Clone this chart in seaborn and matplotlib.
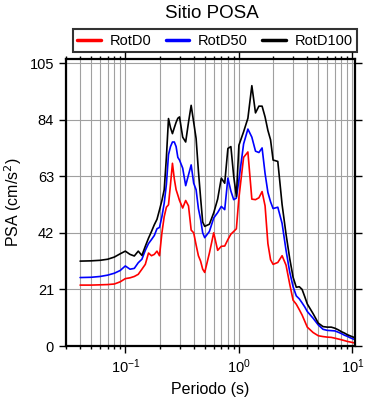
import numpy as np
import pandas as pd
import seaborn as sns
import matplotlib
matplotlib.use("Agg")
import matplotlib.pyplot as plt
from matplotlib.ticker import LogLocator, MultipleLocator, NullFormatter

# Periods (s) and spectral accelerations (cm/s2)
periods = [0.04, 0.05, 0.06, 0.07, 0.08, 0.09,
           0.10, 0.11, 0.12, 0.13, 0.14, 0.15, 0.16, 0.17, 0.18, 0.19,
           0.20, 0.21, 0.22, 0.23, 0.24, 0.25, 0.26, 0.27, 0.28, 0.29, 0.30,
           0.32, 0.34, 0.36, 0.38, 0.40, 0.42, 0.44, 0.46, 0.48, 0.50,
           0.55, 0.60, 0.65, 0.70, 0.75, 0.80, 0.85, 0.90, 0.95,
           1.0, 1.1, 1.2, 1.3, 1.4, 1.5, 1.6, 1.7, 1.8, 1.9, 2.0,
           2.2, 2.4, 2.6, 2.8, 3.0, 3.2, 3.4, 3.6, 3.8, 4.0,
           4.5, 5.0, 5.5, 6.0, 6.5, 7.0, 7.5, 8.0, 8.5, 9.0, 9.5, 10.0, 10.5]

rotd100 = [31.5, 31.6, 31.8, 32.2, 33.0, 34.2,
           35.2, 34.0, 33.4, 35.2, 33.6, 37.0, 40.0, 42.5, 45.0, 47.0,
           50.5, 54.0, 58.0, 70.0, 84.4, 81.0, 78.8, 81.0, 83.0, 84.5, 85.0,
           77.5, 75.7, 83.0, 89.3, 83.0, 77.0, 65.0, 55.0, 46.0, 44.4,
           45.2, 49.4, 54.5, 62.3, 60.4, 73.3, 74.0, 63.0, 55.5,
           74.5, 79.5, 84.5, 96.6, 86.5, 89.0, 89.0, 85.0, 80.0, 76.5, 69.0,
           68.5, 52.5, 41.5, 32.5, 25.5, 21.8, 22.0, 21.0, 18.3, 15.6,
           12.0, 8.5, 7.2, 7.0, 7.0, 6.6, 6.0, 5.3, 4.8, 4.2, 3.8, 3.4, 3.1]

rotd50 = [25.4, 25.5, 25.8, 26.3, 27.0, 28.0,
          29.7, 28.5, 28.8, 30.9, 32.2, 35.5, 38.0, 39.5, 41.0, 43.5,
          44.0, 48.0, 53.0, 60.0, 71.0, 74.0, 75.7, 75.7, 74.0, 70.0, 69.0,
          66.0, 59.5, 63.5, 67.2, 60.4, 58.0, 51.0, 47.0, 42.0, 40.2,
          42.5, 47.5, 49.5, 51.8, 50.6, 62.3, 57.5, 54.3, 54.9,
          61.6, 75.0, 80.5, 77.5, 72.3, 71.8, 73.5, 64.0, 57.0, 53.5, 51.0,
          51.5, 45.5, 35.5, 27.5, 22.0, 18.6, 17.5, 16.0, 14.5, 12.8,
          10.3, 7.8, 6.2, 5.8, 5.7, 5.6, 5.1, 4.6, 4.0, 3.6, 3.1, 2.7, 2.4]

rotd0 = [22.6, 22.6, 22.7, 22.8, 23.0, 23.8,
         25.0, 25.3, 25.8, 26.6, 28.5, 30.3, 34.5, 33.5, 34.0, 35.2,
         33.5, 42.0, 48.0, 51.5, 52.4, 60.0, 67.8, 62.0, 58.0, 56.0, 54.0,
         51.2, 54.0, 52.0, 43.0, 42.0, 37.5, 33.5, 31.5, 28.5, 27.3,
         34.5, 42.0, 35.5, 37.0, 37.1, 39.5, 41.5, 42.5, 43.5,
         55.0, 70.0, 72.0, 54.5, 54.3, 55.0, 57.3, 52.0, 38.0, 32.0, 30.3,
         31.0, 33.5, 30.0, 23.0, 17.0, 15.5, 13.5, 11.5, 9.2, 7.0,
         5.0, 3.8, 3.5, 3.3, 3.2, 2.9, 2.6, 2.3, 2.0, 1.7, 1.5, 1.3, 1.1]

series = ["RotD0", "RotD50", "RotD100"]
colors = {"RotD0": "red", "RotD50": "blue", "RotD100": "black"}
y_ticks = [0, 21, 42, 63, 84, 105]

df = pd.DataFrame({
    "Periodo": periods * 3,
    "PSA": rotd0 + rotd50 + rotd100,
    "Serie": ["RotD0"] * len(periods) + ["RotD50"] * len(periods) + ["RotD100"] * len(periods),
})

sns.set_style("ticks")
plt.rcParams["font.family"] = ["Liberation Sans", "DejaVu Sans"]
plt.rcParams.update({"text.color": "black", "axes.labelcolor": "black",
                     "xtick.color": "black", "ytick.color": "black"})

fig = plt.figure(figsize=(3.9, 4.0), dpi=100)
ax = fig.add_axes([0.169, 0.135, 0.741, 0.7175])

sns.lineplot(data=df, x="Periodo", y="PSA", hue="Serie", hue_order=series,
             palette=colors, linewidth=1.2, sort=False, ax=ax)

ax.set_xscale("log")
ax.set_xlim(0.03, 10.5)
ax.set_ylim(0, 106.5)
ax.set_yticks(y_ticks)
ax.xaxis.set_major_locator(LogLocator(base=10))
ax.xaxis.set_minor_locator(LogLocator(base=10, subs=np.arange(2, 10)))
ax.xaxis.set_minor_formatter(NullFormatter())

ax.grid(True, which="both", axis="x", color="#a0a0a0", linewidth=0.8)
ax.grid(True, which="major", axis="y", color="#a0a0a0", linewidth=0.8)
ax.set_axisbelow(True)

ax.tick_params(which="both", direction="out", top=True, right=True,
               labeltop=False, labelright=False, labelsize=10.5, width=1, color="black")
ax.tick_params(which="major", length=5)
ax.tick_params(which="minor", length=2.5)
for s in ax.spines.values():
    s.set_linewidth(1.6)
    s.set_color("black")

ax.set_xlabel("Periodo (s)", fontsize=11.5)
ax.set_ylabel("PSA (cm/s$^2$)", fontsize=11.5)

leg = ax.legend(loc="lower left", bbox_to_anchor=(0.024, 1.024, 0.983, 0.077),
                mode="expand", ncol=3, fontsize=10.5, frameon=True, fancybox=False,
                handlelength=1.6, handletextpad=0.6, borderaxespad=0, borderpad=0.3)
leg.get_frame().set_edgecolor("black")
leg.get_frame().set_linewidth(1.5)
for h in leg.get_lines():
    h.set_linewidth(2.5)

fig.text(0.544, 0.965, "Sitio POSA", ha="center", va="center", fontsize=13.5)

fig.savefig("out.png", dpi=100)
